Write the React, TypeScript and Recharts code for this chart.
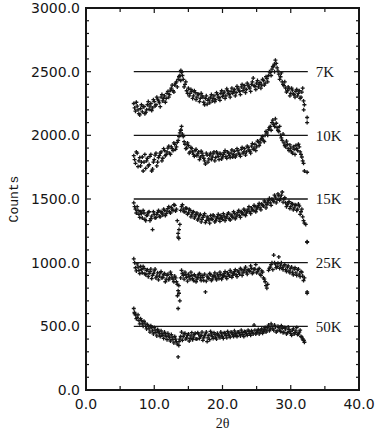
import { ScatterChart, Scatter, XAxis, YAxis, ReferenceLine, ReferenceArea } from 'recharts';

// 2θ positions of the measured points (degrees), two interleaved scans
const ANGLES = [
  7.0, 7.25, 7.5, 7.75, 8.0, 8.25, 8.5, 8.75, 9.0, 9.25, 9.5, 9.75,
  10.0, 10.25, 10.5, 10.75, 11.0, 11.25, 11.5, 11.75, 12.0, 12.25, 12.5, 12.75,
  13.0, 13.25, 13.5, 13.75, 14.0, 14.25, 14.5, 14.75, 15.0, 15.25, 15.5, 15.75,
  16.0, 16.25, 16.5, 16.75, 17.0, 17.25, 17.5, 17.75, 18.0, 18.25, 18.5, 18.75,
  19.0, 19.25, 19.5, 19.75, 20.0, 20.25, 20.5, 20.75, 21.0, 21.25, 21.5, 21.75,
  22.0, 22.25, 22.5, 22.75, 23.0, 23.25, 23.5, 23.75, 24.0, 24.25, 24.5, 24.75,
  25.0, 25.25, 25.5, 25.75, 26.0, 26.25, 26.5, 26.75, 27.0, 27.25, 27.5, 27.75,
  28.0, 28.25, 28.5, 28.75, 29.0, 29.25, 29.5, 29.75, 30.0, 30.25, 30.5, 30.75,
  31.0, 31.25, 31.5, 31.75, 32.0,
];
const ANGLES_B = [
  7.125, 7.375, 7.625, 7.875, 8.125, 8.375, 8.625, 8.875, 9.125, 9.375, 9.625, 9.875,
  10.125, 10.375, 10.625, 10.875, 11.125, 11.375, 11.625, 11.875, 12.125, 12.375, 12.625, 12.875,
  13.125, 13.375, 13.625, 13.875, 14.125, 14.375, 14.625, 14.875, 15.125, 15.375, 15.625, 15.875,
  16.125, 16.375, 16.625, 16.875, 17.125, 17.375, 17.625, 17.875, 18.125, 18.375, 18.625, 18.875,
  19.125, 19.375, 19.625, 19.875, 20.125, 20.375, 20.625, 20.875, 21.125, 21.375, 21.625, 21.875,
  22.125, 22.375, 22.625, 22.875, 23.125, 23.375, 23.625, 23.875, 24.125, 24.375, 24.625, 24.875,
  25.125, 25.375, 25.625, 25.875, 26.125, 26.375, 26.625, 26.875, 27.125, 27.375, 27.625, 27.875,
  28.125, 28.375, 28.625, 28.875, 29.125, 29.375, 29.625, 29.875, 30.125, 30.375, 30.625, 30.875,
  31.125, 31.375, 31.625, 31.875,
];

const COUNTS_7K = [
  2250, 2190, 2230, 2170, 2210, 2185, 2225, 2180, 2240, 2205, 2250, 2215,
  2265, 2240, 2285, 2255, 2300, 2270, 2310, 2290, 2345, 2320, 2370, 2350,
  2395, 2420, 2440, 2470, 2495, 2440, 2400, 2350, 2370, 2330, 2345, 2310,
  2335, 2300, 2320, 2290, 2310, 2260, 2290, 2245, 2285, 2300, 2270, 2310,
  2280, 2320, 2295, 2330, 2305, 2340, 2310, 2350, 2320, 2345, 2330, 2360,
  2335, 2370, 2345, 2380, 2350, 2390, 2360, 2395, 2370, 2400, 2450, 2385,
  2410, 2380, 2415, 2395, 2430, 2410, 2445, 2470, 2495, 2520, 2545, 2590,
  2530, 2480, 2460, 2420, 2390, 2370, 2350, 2365, 2330, 2355, 2320, 2345,
  2310, 2350, 2300, 2370, 2240,
];
const COUNTS_7K_B = [
  2215, 2260, 2200, 2160, 2240, 2225, 2170, 2200, 2265, 2230, 2195, 2280,
  2230, 2300, 2270, 2225, 2320, 2290, 2260, 2330, 2300, 2355, 2395, 2340,
  2410, 2380, 2460, 2430, 2470, 2380, 2420, 2330, 2310, 2360, 2290, 2350,
  2280, 2325, 2265, 2330, 2300, 2240, 2310, 2275, 2255, 2320, 2290, 2265,
  2335, 2300, 2275, 2350, 2325, 2290, 2365, 2330, 2300, 2370, 2345, 2310,
  2385, 2355, 2320, 2400, 2370, 2335, 2410, 2380, 2345, 2420, 2390, 2360,
  2430, 2400, 2370, 2440, 2395, 2460, 2420, 2500, 2470, 2540, 2500, 2565,
  2505, 2440, 2490, 2400, 2420, 2340, 2380, 2310, 2370, 2325, 2300, 2360,
  2330, 2290, 2340, 2270,
];

const COUNTS_10K = [
  1840, 1780, 1860, 1800, 1760, 1830, 1790, 1740, 1820, 1770, 1850, 1735,
  1810, 1860, 1790, 1840, 1870, 1820, 1880, 1850, 1900, 1860, 1910, 1880,
  1930, 1910, 1960, 2020, 2070, 1990, 1930, 1900, 1920, 1870, 1895, 1850,
  1880, 1840, 1870, 1830, 1860, 1820, 1775, 1845, 1815, 1860, 1830, 1870,
  1825, 1855, 1810, 1850, 1830, 1865, 1835, 1870, 1840, 1860, 1830, 1875,
  1845, 1880, 1850, 1890, 1860, 1895, 1870, 1905, 1875, 1915, 1890, 1930,
  1910, 1950, 1940, 1975, 1960, 2000, 2020, 2045, 2070, 2100, 2085, 2130,
  2060, 2030, 2000, 1960, 1940, 1910, 1930, 1880, 1900, 1860, 1890, 1920,
  1880, 1910, 1850, 1800, 1720,
];
const COUNTS_10K_B = [
  1810, 1870, 1755, 1825, 1790, 1720, 1850, 1800, 1760, 1835, 1720, 1790,
  1845, 1760, 1825, 1860, 1800, 1895, 1840, 1870, 1915, 1850, 1895, 1940,
  1890, 1945, 1990, 2040, 2010, 1950, 1895, 1940, 1860, 1905, 1870, 1835,
  1890, 1855, 1810, 1875, 1840, 1800, 1860, 1790, 1845, 1810, 1855, 1800,
  1870, 1835, 1860, 1815, 1850, 1880, 1820, 1860, 1825, 1885, 1850, 1830,
  1895, 1860, 1835, 1905, 1870, 1845, 1915, 1885, 1860, 1935, 1900, 1880,
  1955, 1920, 1965, 1990, 1950, 2030, 2000, 2060, 2040, 2120, 2070, 2095,
  2040, 2070, 1980, 2010, 1920, 1955, 1895, 1925, 1870, 1910, 1850, 1895,
  1930, 1870, 1830, 1780,
];

const COUNTS_15K = [
  1470, 1420, 1440, 1380, 1400, 1350, 1390, 1330, 1375, 1400, 1345, 1260,
  1380, 1355, 1395, 1365, 1400, 1375, 1410, 1385, 1425, 1400, 1435, 1410,
  1450, 1420, 1200, 1300, 1440, 1420, 1400, 1425, 1390, 1410, 1375, 1400,
  1365, 1390, 1350, 1380, 1340, 1370, 1315, 1360, 1335, 1370, 1340, 1365,
  1330, 1360, 1345, 1370, 1340, 1365, 1350, 1380, 1345, 1375, 1355, 1385,
  1360, 1395, 1370, 1400, 1380, 1410, 1390, 1420, 1400, 1430, 1410, 1440,
  1420, 1450, 1430, 1460, 1445, 1475, 1455, 1490, 1470, 1500, 1480, 1515,
  1495, 1525, 1505, 1555, 1500, 1470, 1455, 1480, 1440, 1460, 1430, 1450,
  1420, 1445, 1400, 1360, 1310,
];
const COUNTS_15K_B = [
  1440, 1390, 1410, 1355, 1385, 1410, 1340, 1370, 1395, 1330, 1365, 1400,
  1350, 1380, 1410, 1360, 1390, 1420, 1370, 1405, 1440, 1390, 1420, 1455,
  1405, 1330, 1260, 1410, 1455, 1400, 1430, 1380, 1420, 1360, 1395, 1350,
  1380, 1335, 1370, 1320, 1355, 1385, 1330, 1350, 1310, 1345, 1375, 1320,
  1350, 1380, 1325, 1355, 1385, 1330, 1360, 1390, 1335, 1365, 1400, 1345,
  1375, 1410, 1355, 1390, 1420, 1370, 1405, 1440, 1385, 1415, 1450, 1400,
  1435, 1465, 1415, 1450, 1485, 1430, 1470, 1505, 1450, 1490, 1530, 1470,
  1540, 1490, 1530, 1475, 1510, 1440, 1470, 1425, 1465, 1415, 1455, 1410,
  1460, 1380, 1420, 1330,
];

const COUNTS_25K = [
  1030, 960, 990, 940, 970, 920, 955, 905, 945, 915, 950, 900,
  935, 880, 920, 895, 930, 885, 915, 870, 910, 880, 905, 870,
  895, 850, 780, 700, 940, 900, 925, 885, 910, 870, 900, 860,
  895, 870, 905, 880, 900, 860, 770, 895, 875, 905, 870, 900,
  880, 910, 875, 905, 885, 915, 890, 920, 895, 925, 900, 930,
  905, 935, 910, 945, 920, 950, 925, 945, 930, 955, 925, 950,
  920, 945, 910, 935, 880, 850, 800, 940, 965, 1000, 1060, 990,
  970, 1045, 980, 960, 975, 945, 965, 935, 955, 925, 950, 920,
  945, 910, 930, 895, 880,
];
const COUNTS_25K_B = [
  1000, 935, 965, 915, 945, 970, 915, 940, 890, 930, 875, 915,
  950, 895, 865, 920, 880, 905, 850, 900, 865, 925, 880, 850,
  880, 830, 760, 880, 915, 870, 905, 855, 890, 925, 875, 905,
  850, 885, 915, 860, 885, 910, 855, 880, 915, 860, 890, 920,
  865, 895, 925, 870, 900, 930, 875, 905, 940, 885, 915, 945,
  890, 925, 955, 900, 935, 965, 910, 940, 975, 915, 950, 985,
  930, 955, 900, 925, 870, 820, 830, 955, 985, 945, 1000, 960,
  995, 955, 1000, 945, 985, 930, 975, 920, 965, 905, 960, 900,
  950, 890, 925, 860,
];

const COUNTS_50K = [
  640, 590, 570, 545, 560, 520, 540, 500, 515, 480, 505, 465,
  490, 450, 475, 440, 465, 430, 455, 420, 445, 410, 435, 395,
  420, 380, 260, 400, 455, 420, 445, 410, 440, 405, 450, 415,
  445, 400, 440, 420, 455, 410, 440, 380, 430, 460, 420, 450,
  415, 445, 425, 455, 420, 450, 430, 460, 425, 455, 435, 465,
  430, 455, 440, 470, 435, 460, 440, 470, 445, 465, 440, 470,
  450, 475, 455, 480, 460, 490, 470, 510, 480, 500, 470, 495,
  465, 490, 460, 485, 455, 480, 450, 475, 445, 470, 440, 465,
  435, 455, 420, 400, 375,
];
const COUNTS_50K_B = [
  600, 560, 590, 520, 545, 500, 525, 480, 500, 455, 490, 440,
  470, 425, 460, 420, 445, 405, 440, 395, 425, 385, 415, 370,
  400, 360, 380, 420, 390, 440, 400, 430, 385, 425, 395, 435,
  400, 450, 405, 430, 390, 425, 455, 410, 395, 440, 405, 435,
  400, 430, 410, 440, 405, 445, 410, 440, 415, 450, 420, 445,
  420, 455, 425, 450, 420, 455, 430, 460, 430, 455, 510, 440,
  465, 440, 470, 445, 475, 455, 490, 465, 520, 480, 510, 455,
  500, 470, 505, 450, 490, 440, 495, 460, 430, 480, 450, 490,
  440, 470, 415, 390,
];

// stray points off the regular grid: [2θ, counts]
const EXTRA_7K: [number, number][] = [[13.9, 2510], [27.6, 2560], [31.9, 2200]];
const EXTRA_10K: [number, number][] = [[32.4, 2140], [32.4, 2100], [32.4, 1710], [13.9, 2040]];
const EXTRA_15K: [number, number][] = [[13.5, 1230], [13.6, 1190], [32.4, 1165], [32.2, 1300]];
const EXTRA_25K: [number, number][] = [[13.5, 640], [13.6, 820], [13.4, 740], [32.4, 770], [32.4, 760], [32.4, 1160]];
const EXTRA_50K: [number, number][] = [[7.1, 610], [13.6, 350], [31.9, 390]];

const LABELS = ['7K', '10K', '15K', '25K', '50K'];
const LEVELS = [2500, 2000, 1500, 1000, 500];
const LINE_FROM = 7.0;
const LINE_TO = 32.5;

const X_MAX = 40;
const Y_MAX = 3000;
const X_TICKS = [0, 5, 10, 15, 20, 25, 30, 35, 40];
const Y_TICKS = [
  0, 100, 200, 300, 400, 500, 600, 700, 800, 900, 1000, 1100, 1200, 1300, 1400, 1500,
  1600, 1700, 1800, 1900, 2000, 2100, 2200, 2300, 2400, 2500, 2600, 2700, 2800, 2900, 3000,
];

const SERIES = [
  { a: COUNTS_7K, b: COUNTS_7K_B, extra: EXTRA_7K },
  { a: COUNTS_10K, b: COUNTS_10K_B, extra: EXTRA_10K },
  { a: COUNTS_15K, b: COUNTS_15K_B, extra: EXTRA_15K },
  { a: COUNTS_25K, b: COUNTS_25K_B, extra: EXTRA_25K },
  { a: COUNTS_50K, b: COUNTS_50K_B, extra: EXTRA_50K },
].map((s) => [
  ...ANGLES.map((x, i) => ({ x, y: s.a[i] })),
  ...ANGLES_B.map((x, i) => ({ x, y: s.b[i] })),
  ...s.extra.map(([x, y]) => ({ x, y })),
]);

// layout
const W = 382;
const H = 437;
const MARGIN = { top: 8, right: 23, bottom: 0, left: 0 };
const Y_AXIS_W = 86;
const X_AXIS_H = 47;
const PLOT_W = W - MARGIN.left - MARGIN.right - Y_AXIS_W;
const PLOT_H = H - MARGIN.top - MARGIN.bottom - X_AXIS_H;

const INK = '#161616';
const tickFont = { fontFamily: '"DejaVu Sans", sans-serif', fontSize: 14, fill: INK };

const Plus = (props: any) => {
  const { cx, cy } = props;
  if (cx == null || cy == null) return <g />;
  return (
    <path
      d={`M${cx - 2},${cy}H${cx + 2}M${cx},${cy - 2}V${cy + 2}`}
      stroke={INK}
      strokeWidth={1.3}
    />
  );
};

// left axis tick: inward mark on the left frame and the mirrored one on the right frame
const LeftTick = (props: any) => {
  const x = Number(props.x);
  const y = Number(props.y);
  const v = Number(props.payload.value);
  const len = v % 500 === 0 ? 5 : 3;
  return (
    <g>
      <rect x={x} y={y - 0.6} width={len} height={1.2} fill={INK} />
      <rect x={x + PLOT_W - len} y={y - 0.6} width={len} height={1.2} fill={INK} />
      {v % 500 === 0 && (
        <text x={x - 6} y={y} dy="0.36em" textAnchor="end" {...tickFont}>
          {v.toFixed(1)}
        </text>
      )}
    </g>
  );
};

// bottom axis tick: inward mark on the bottom frame and the mirrored one on the top frame
const BottomTick = (props: any) => {
  const x = Number(props.x);
  const y = Number(props.y);
  const v = Number(props.payload.value);
  const len = v % 10 === 0 ? 5 : 4;
  return (
    <g>
      <rect x={x - 0.6} y={y - len} width={1.2} height={len} fill={INK} />
      <rect x={x - 0.6} y={y - PLOT_H} width={1.2} height={len} fill={INK} />
      {v % 10 === 0 && (
        <text x={x} y={y + 14} dy="0.36em" textAnchor="middle" {...tickFont}>
          {v.toFixed(1)}
        </text>
      )}
    </g>
  );
};

export default function App() {
  const axisLine = { stroke: INK, strokeWidth: 1.6 };
  return (
    <div style={{ position: 'absolute', left: 0, top: 0, width: W, height: H, background: '#fff' }}>
      <ScatterChart width={W} height={H} margin={MARGIN}>
        <XAxis
          type="number"
          dataKey="x"
          domain={[0, X_MAX]}
          ticks={X_TICKS}
          interval={0}
          height={X_AXIS_H}
          tickSize={0}
          tickMargin={0}
          tickLine={false}
          axisLine={axisLine}
          tick={<BottomTick />}
          label={{ value: '2θ', position: 'insideBottom', offset: 9, style: { fontFamily: '"Liberation Serif", serif', fontSize: 14, fill: INK } }}
        />
        <YAxis
          type="number"
          dataKey="y"
          domain={[0, Y_MAX]}
          ticks={Y_TICKS}
          interval={0}
          width={Y_AXIS_W}
          tickSize={0}
          tickMargin={0}
          tickLine={false}
          axisLine={axisLine}
          tick={<LeftTick />}
          label={{ value: 'Counts', angle: -90, position: 'insideLeft', offset: 13, style: { textAnchor: 'middle', fontFamily: '"Liberation Mono", monospace', fontSize: 13, fill: INK } }}
        />
        <ReferenceArea
          x1={0}
          x2={X_MAX}
          y1={0}
          y2={Y_MAX}
          fill="none"
          stroke={INK}
          strokeWidth={1.6}
          ifOverflow="visible"
        />
        <ReferenceLine y={Y_MAX} stroke={INK} strokeWidth={1.6} ifOverflow="visible" />
        <ReferenceLine x={X_MAX} stroke={INK} strokeWidth={1.6} ifOverflow="visible" />
        {LEVELS.map((lv, i) => (
          <ReferenceLine
            key={LABELS[i]}
            segment={[{ x: LINE_FROM, y: lv }, { x: LINE_TO, y: lv }]}
            stroke={INK}
            strokeWidth={1.3}
            ifOverflow="visible"
            label={{ value: LABELS[i], position: 'right', offset: 8, style: { fontFamily: '"Liberation Serif", serif', fontSize: 15, fill: INK } }}
          />
        ))}
        {SERIES.map((data, i) => (
          <Scatter key={LABELS[i]} data={data} shape={<Plus />} isAnimationActive={false} />
        ))}
      </ScatterChart>
      {/* plot frame drawn over the chart */}
      <div
        style={{
          position: 'absolute',
          left: MARGIN.left + Y_AXIS_W - 1,
          top: MARGIN.top - 1,
          width: PLOT_W + 2,
          height: PLOT_H + 2,
          boxSizing: 'border-box',
          border: `2px solid ${INK}`,
          pointerEvents: 'none',
        }}
      />
    </div>
  );
}
